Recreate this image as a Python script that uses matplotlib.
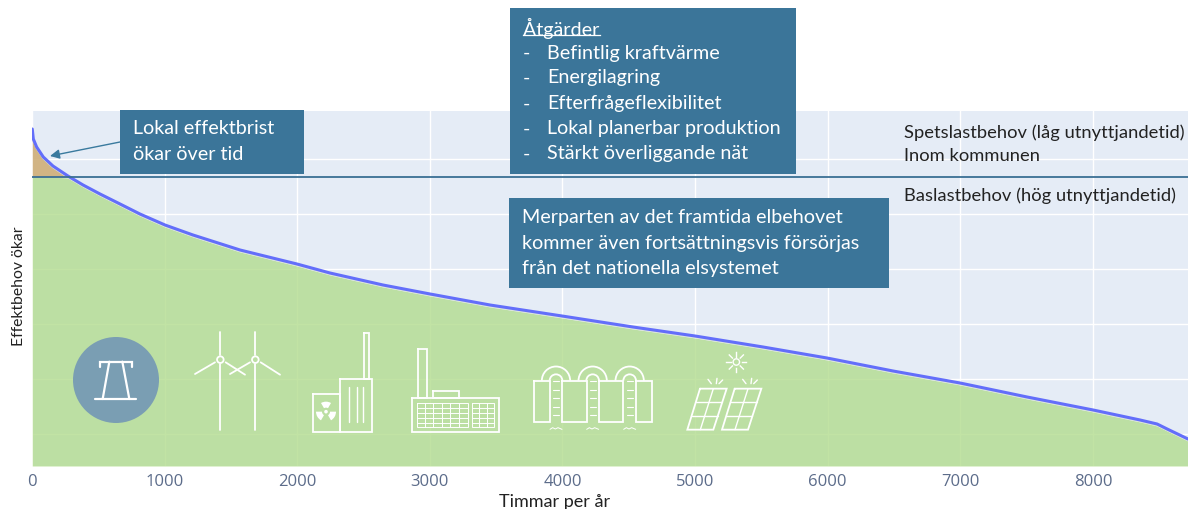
import numpy as np
import matplotlib
matplotlib.use("Agg")
import matplotlib.pyplot as plt
from matplotlib.patches import Rectangle, Circle, Wedge, Arc

# values, y is in arbitrary units (no y ticks in the original)
hours = [2, 10, 35, 85, 158, 271, 385, 513, 664, 814, 1003, 1214, 1569, 1998, 2247, 2647,
         3002, 3454, 3997, 4532, 5000, 5513, 5995, 6493, 6998, 7504, 8002, 8356, 8484, 8560, 8717]
load = [337, 327, 319, 309, 300, 290, 281, 272, 262, 252, 241, 231, 216, 202, 193, 181,
        172, 161, 150, 139, 130, 119, 108, 95, 83, 69, 56, 46, 42, 37, 27]
base_level = 289
x_ticks = [0, 1000, 2000, 3000, 4000, 5000, 6000, 7000, 8000]
y_grid = [32, 87, 142, 197, 252, 307]

box_color = "#3b7599"
white = "#ffffff"
text_font = "Lato"

fig = plt.figure(figsize=(11.88, 5.1), dpi=100)
ax = fig.add_axes([32 / 1188, 1 - 467 / 510, 1 - 32 / 1188, 355 / 510])
ax.set_facecolor("#e5ecf6")
ax.set_xlim(0, 8717)
ax.set_ylim(0, 355)
ax.set_xticks(x_ticks)
ax.set_yticks(y_grid)
ax.grid(True, color="white", lw=1.0, zorder=1)
ax.set_axisbelow(True)
for s in ax.spines.values():
    s.set_visible(False)
ax.tick_params(length=0, labelleft=False, pad=5, labelsize=12, labelcolor="#5c6c8a",
               labelfontfamily="Open Sans")

h = np.array(hours, dtype=float)
y = np.array(load, dtype=float)
# area edge sits a little under the line in the original
ax.fill_between(h, 0, np.minimum(y - 2, base_level), color="#b2dc8e", alpha=0.8, lw=0, zorder=2)
ax.fill_between(h, base_level, y - 1, where=y >= base_level, interpolate=True,
                color="#cfae78", alpha=0.9, lw=0, zorder=2)
ax.plot(h, y - 1.5, color="#dde5d8", lw=1.2, zorder=2.5)
ax.plot(h, y, color="#636efa", lw=2.2, zorder=3, solid_capstyle="round")
ax.axhline(base_level, color="#3a6f94", lw=1.3, zorder=4)

# overlay in picture pixels for the boxes, texts and icons
ov = fig.add_axes([0, 0, 1, 1], facecolor="none")
ov.set_xlim(0, 1188)
ov.set_ylim(510, 0)
ov.axis("off")


def box(x0, y0, x1, y1):
    ov.add_patch(Rectangle((x0, y0), x1 - x0, y1 - y0, fc=box_color, ec="none", zorder=5))


def label(x, y, s, color=white, size=14.2, **kw):
    ov.text(x, y, s, color=color, fontsize=size, family=text_font, va="center", zorder=6, **kw)


box(120, 111, 304, 175)
label(133, 129, "Lokal effektbrist")
label(133, 155, "ökar över tid")
ov.annotate("", xy=(50, 157), xytext=(120, 143), zorder=6,
            arrowprops=dict(arrowstyle="-|>", color="#3a7a9e", lw=1, mutation_scale=14, shrinkA=0, shrinkB=0))

box(510, 9, 796, 175)
label(523, 28, "Åtgärder")
ov.plot([523, 600], [36, 36], color=white, lw=0.9, zorder=6)
actions = ["Befintlig kraftvärme", "Energilagring", "Efterfrågeflexibilitet",
           "Lokal planerbar produktion", "Stärkt överliggande nät"]
action_y = [53, 78, 104, 129, 154]
for yy, s in zip(action_y, actions):
    label(523, yy, "-")
    label(547, yy, s)

box(509, 199, 889, 289)
label(522, 218, "Merparten av det framtida elbehovet")
label(522, 244, "kommer även fortsättningsvis försörjas")
label(522, 269, "från det nationella elsystemet")

dark = "#222222"
label(904, 133, "Spetslastbehov (låg utnyttjandetid)", color=dark, size=13.2)
label(904, 156, "Inom kommunen", color=dark, size=13.2)
label(904, 196, "Baslastbehov (hög utnyttjandetid)", color=dark, size=13.2)

ov.text(555, 502, "Timmar per år", color=dark, fontsize=13, family=text_font, ha="center", va="center")
ov.text(19, 286, "Effektbehov ökar", color=dark, fontsize=11.3, family=text_font, ha="center", va="center",
        rotation=90)

# icons, zoom crop coordinates -> picture pixels
ICON_LW = 1.3


def line(pts, ox, oy, lw=ICON_LW):
    p = np.array(pts, dtype=float) / 3
    ov.plot(p[:, 0] + ox, p[:, 1] + oy, color=white, lw=lw, zorder=5, solid_capstyle="round",
            solid_joinstyle="miter")


def rect(x0, y0, x1, y1, ox, oy, lw=ICON_LW):
    line([(x0, y0), (x1, y0), (x1, y1), (x0, y1), (x0, y0)], ox, oy, lw)


ox, oy = 40, 320
# pylon
ov.add_patch(Circle((116, 381), 43, fc="#7a9eb3", ec="none", zorder=4))
line([(180, 145), (180, 128), (275, 128), (275, 145)], ox, oy, 1.6)
line([(208, 128), (188, 240)], ox, oy, 1.6)
line([(247, 128), (268, 240)], ox, oy, 1.6)
line([(166, 241), (289, 241)], ox, oy, 1.6)

# turbines
for tx in (541, 646):
    ov.add_patch(Circle((ox + tx / 3, oy + 122 / 3), 3.3, fc="none", ec=white, lw=1.3, zorder=5))
    line([(tx, 38), (tx, 108)], ox, oy)
    line([(tx, 136), (tx, 332)], ox, oy)
    line([(tx - 16, 130), (tx - 76, 165)], ox, oy)
    line([(tx + 16, 130), (tx + 74, 167)], ox, oy)

# nuclear plant
rect(818, 225, 900, 338, ox, oy)
rect(900, 180, 997, 338, ox, oy)
rect(972, 42, 988, 180, ox, oy)
for lx in (928, 950, 970):
    line([(lx, 203), (lx, 310)], ox, oy, 1)
cx, cy = ox + 858 / 3, oy + 278 / 3
ov.add_patch(Circle((cx, cy), 1.8, fc=white, ec="none", zorder=5))
for a in (30, 150, 270):
    # y axis is flipped so the angles are mirrored
    ov.add_patch(Wedge((cx, cy), 10, a - 30, a + 30, width=6, fc=white, ec="none", zorder=5))

ox, oy = 400, 330
# factory
rect(53, 60, 82, 207, ox, oy)
rect(100, 187, 177, 207, ox, oy)
rect(36, 207, 296, 308, ox, oy)
rect(50, 223, 203, 295, ox, oy, 0.7)
rect(215, 223, 283, 295, ox, oy, 0.7)
for gy in (237, 252, 266, 281):
    line([(50, gy), (203, gy)], ox, oy, 0.7)
    line([(215, gy), (283, gy)], ox, oy, 0.7)
for gx in (75, 100, 125, 150, 176):
    line([(gx, 223), (gx, 295)], ox, oy, 0.7)
for gx in (238, 260):
    line([(gx, 223), (gx, 295)], ox, oy, 0.7)

# hydro dam
rect(403, 155, 450, 278, ox, oy)
rect(487, 155, 560, 278, ox, oy)
rect(597, 155, 670, 278, ox, oy)
rect(707, 155, 757, 278, ox, oy)
for dx in (468, 578, 689):
    px, py = ox + dx / 3, oy + 155 / 3
    ov.add_patch(Arc((px, py), 85 / 3, 85 / 3, theta1=180, theta2=360, ec=white, lw=1.3, zorder=5))
    ov.add_patch(Arc((px, py), 38 / 3, 38 / 3, theta1=180, theta2=360, ec=white, lw=1.3, zorder=5))
    for dy in (157, 182, 208, 233, 258):
        line([(dx - 9, dy), (dx + 9, dy)], ox, oy, 0.8)
    line([(dx - 18, 301), (dx - 10, 296), (dx - 2, 300), (dx + 6, 296), (dx + 18, 301)], ox, oy, 0.7)

# solar panels
for shift in (0, 104):
    tl = np.array([900.0 + shift, 179.0])
    tr = np.array([980.0 + shift, 179.0])
    bl = np.array([862.0 + shift, 302.0])
    br = np.array([940.0 + shift, 302.0])
    line([tl, tr, br, bl, tl], ox, oy)
    for f in (1 / 3, 2 / 3):
        line([tl + (bl - tl) * f, tr + (br - tr) * f], ox, oy, 1)
    line([(tl + tr) / 2, (bl + br) / 2], ox, oy, 1)
    line([(924 + shift, 151), (934 + shift, 164)], ox, oy, 1)
    line([(951 + shift, 148), (949 + shift, 164)], ox, oy, 1)
    line([(968 + shift, 153), (957 + shift, 164)], ox, oy, 1)
sx, sy = ox + 1009 / 3, oy + 99 / 3
ov.add_patch(Circle((sx, sy), 3.2, fc="none", ec=white, lw=1, zorder=5))
for a in np.arange(0, 360, 45):
    c, s = np.cos(np.radians(a)), np.sin(np.radians(a))
    ov.plot([sx + 5.5 * c, sx + 10 * c], [sy + 5.5 * s, sy + 10 * s], color=white, lw=1, zorder=5)

fig.savefig("out.png", dpi=100)
